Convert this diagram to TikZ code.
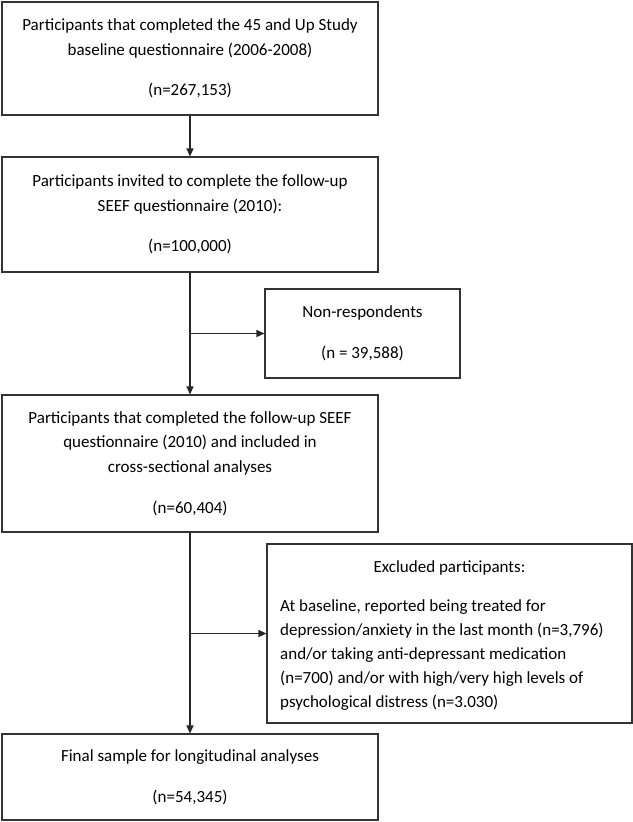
\documentclass[tikz,border=0pt]{standalone}
\usepackage{fontspec}
\setmainfont{Carlito}
\usetikzlibrary{arrows.meta}
\begin{document}
\begin{tikzpicture}[x=1bp,y=-1bp,
  box/.style={draw=black!80,line width=1.1bp,align=center,inner sep=0pt,
    font=\fontsize{17bp}{24.5bp}\selectfont},
  txt/.style={inner sep=0pt,font=\fontsize{17bp}{24.2bp}\selectfont},
  arr/.style={draw=black!85,line width=1.1bp,-{Triangle[length=8bp,width=7bp]}}]
\useasboundingbox (0,0) rectangle (633,822);
\node[box,minimum width=376bp,minimum height=113bp] (b1) at (190,58.5)
  {Participants that completed the 45 and Up Study\\ baseline questionnaire (2006-2008)\\[15.5bp] (n=267,153)};
\node[box,minimum width=376bp,minimum height=115bp] (b2) at (190,214.5)
  {Participants invited to complete the follow-up\\ SEEF questionnaire (2010):\\[15.5bp] (n=100,000)};
\node[box,minimum width=195bp,minimum height=89bp] (nr) at (362.5,333.5)
  {Non-respondents\\[16.5bp] (n = 39,588)};
\node[box,minimum width=376bp,minimum height=137bp] (b3) at (190,463.5)
  {Participants that completed the follow-up SEEF\\ questionnaire (2010) and included in\\ cross-sectional analyses\\[16.5bp] (n=60,404)};
\node[box,minimum width=365bp,minimum height=179bp] (ex) at (449.5,633.5) {};
\node[txt] (exh) at (449.5,568) {Excluded participants:};
\node[txt,align=left,anchor=west] (exb) at (280,655)
  {At baseline, reported being treated for\\ depression/anxiety in the last month (n=3,796)\\ and/or taking anti-depressant medication\\ (n=700) and/or with high/very high levels of\\ psychological distress (n=3.030)};
\node[box,minimum width=376bp,minimum height=86bp] (b5) at (190,777)
  {Final sample for longitudinal analyses\\[16.5bp] (n=54,345)};
\draw[arr] (b1.south) -- (b2.north);
\draw[arr] (b2.south) -- (b3.north);
\draw[arr] (b2.south |- nr.west) -- (nr.west);
\draw[arr] (b3.south) -- (b5.north);
\draw[arr] (b3.south |- ex.west) -- (ex.west);
\end{tikzpicture}
\end{document}
